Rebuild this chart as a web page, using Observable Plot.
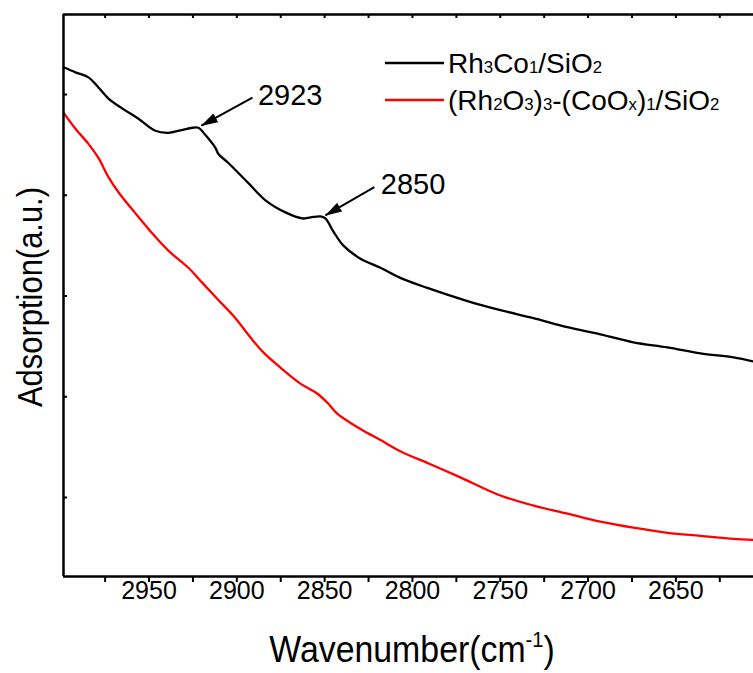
<!DOCTYPE html>
<html>
<head>
<meta charset="utf-8">
<script src="https://cdn.jsdelivr.net/npm/d3@7"></script>
<script src="https://cdn.jsdelivr.net/npm/@observablehq/plot@0.6"></script>
<style>
  html, body { margin: 0; padding: 0; background: #fff; }
</style>
</head>
<body>
<div id="chart"></div>
<script>
// ---------- data ----------
const blackWavenumber = [2998.7, 2991.9, 2984.5, 2978.8, 2973.1, 2965.1, 2956.0, 2946.4, 2939.0, 2931.0,
  2925.3, 2921.9, 2917.5, 2912.2, 2910.5, 2904.8, 2893.4, 2883.7, 2872.3, 2862.7,
  2858.0, 2852.4, 2849.6, 2845.0, 2839.3, 2829.6, 2818.2, 2806.9, 2791.5, 2768.7,
  2749.9, 2731.1, 2711.8, 2693.0, 2674.2, 2654.8, 2636.0, 2617.2, 2605.8];
const blackAbsorption = [5.27, 5.22, 5.17, 5.07, 4.96, 4.86, 4.76, 4.64, 4.62, 4.65,
  4.67, 4.67, 4.59, 4.47, 4.41, 4.32, 4.12, 3.95, 3.83, 3.77,
  3.78, 3.79, 3.77, 3.64, 3.50, 3.37, 3.28, 3.18, 3.08, 2.95,
  2.86, 2.78, 2.69, 2.62, 2.54, 2.49, 2.43, 2.39, 2.35];

const redWavenumber = [2998.7, 2991.9, 2984.5, 2978.8, 2973.1, 2967.4, 2957.7, 2948.1, 2939.0, 2927.6,
  2919.6, 2910.5, 2900.8, 2892.3, 2884.9, 2875.2, 2863.8, 2854.1, 2848.4, 2842.7,
  2829.6, 2818.2, 2806.9, 2789.8, 2772.7, 2749.9, 2731.1, 2711.8, 2693.0, 2674.2,
  2654.8, 2636.0, 2617.2, 2605.8];
const redAbsorption = [4.82, 4.66, 4.51, 4.37, 4.18, 4.03, 3.82, 3.62, 3.45, 3.28,
  3.13, 2.96, 2.78, 2.59, 2.44, 2.29, 2.13, 2.03, 1.94, 1.83,
  1.68, 1.57, 1.46, 1.33, 1.20, 1.02, 0.92, 0.84, 0.76, 0.70,
  0.65, 0.62, 0.59, 0.58];

const xDomain = [2998.7, 2605.8];
const yDomain = [0.216, 5.794];
const majorTicks = [2950, 2900, 2850, 2800, 2750, 2700, 2650];
const minorTicks = [2975, 2925, 2875, 2825, 2775, 2725, 2675, 2625];
const topTicks = [2975, 2950, 2925, 2900, 2875, 2850, 2825, 2800, 2775, 2750, 2725, 2700, 2675, 2650, 2625];
const yTicks = [1, 2, 3, 4, 5];

const peakLabels = ["2923", "2850"];
const peakTextX = [2888, 2818];
const peakTextY = [4.99, 4.10];
const arrowTailX = [2891.1, 2821.7];
const arrowTailY = [4.97, 4.08];
const arrowTipX = [2920.2, 2849.6];
const arrowTipY = [4.69, 3.80];

const seriesNames = ["Rh3Co1/SiO2", "(Rh2O3)3-(CoOx)1/SiO2"];
const seriesColors = ["#000000", "#ff0000"];

// ---------- tables ----------
const black = blackWavenumber.map((w, i) => ({w, a: blackAbsorption[i]}));
const red = redWavenumber.map((w, i) => ({w, a: redAbsorption[i]}));
const peaks = peakLabels.map((t, i) => ({
  t, tx: peakTextX[i], ty: peakTextY[i],
  x1: arrowTailX[i], y1: arrowTailY[i], x2: arrowTipX[i], y2: arrowTipY[i]
}));

const FONT = '"Liberation Sans", Arial, Helvetica, sans-serif';
const NARROW = '"Liberation Sans Narrow", "Arial Narrow", "Liberation Sans", Arial, sans-serif';
const W = 753, H = 673, ML = 63, MR = 0, MT = 14, MB = 97;
const innerW = W - ML - MR, innerH = H - MT - MB;

const svg = Plot.plot({
  width: W, height: H,
  marginLeft: ML, marginRight: MR, marginTop: MT, marginBottom: MB,
  style: {fontFamily: FONT, background: "#fff", color: "#000", overflow: "visible"},
  x: {domain: xDomain, label: null},
  y: {domain: yDomain, label: null, axis: null},
  marks: [
    Plot.axisX({ticks: majorTicks, tickSize: 6, strokeWidth: 2, tickFormat: () => "", label: null}),
    Plot.axisX({ticks: minorTicks, tickSize: 6, strokeWidth: 2, tickFormat: () => "", label: null}),
    Plot.text(majorTicks, {x: d => d, text: d => String(d), frameAnchor: "bottom", dy: 22,
      fontSize: 25, fontFamily: NARROW, fill: "#000"}),
    Plot.ruleX(topTicks, {x: d => d, insetBottom: innerH - 4, strokeWidth: 2}),
    Plot.ruleY(yTicks, {y: d => d, insetRight: innerW - 4, strokeWidth: 2}),
    Plot.line(red, {x: "w", y: "a", stroke: seriesColors[1], strokeWidth: 2.3, curve: "catmull-rom"}),
    Plot.line(black, {x: "w", y: "a", stroke: seriesColors[0], strokeWidth: 2.3, curve: "catmull-rom"}),
    Plot.ruleX([xDomain[0]], {x: d => d, strokeWidth: 2.5}),
    Plot.ruleY([yDomain[0], yDomain[1]], {y: d => d, strokeWidth: 2.5}),
    Plot.link(peaks, {x1: "x1", y1: "y1", x2: "x2", y2: "y2", stroke: "#000", strokeWidth: 2}),
    Plot.text(peaks, {x: "tx", y: "ty", text: "t", textAnchor: "start", fontSize: 29, fill: "#000"})
  ]
});

const s = d3.select(svg);

// filled arrow heads
const defs = s.append("defs");
defs.append("marker")
  .attr("id", "ah").attr("viewBox", "0 0 17 10")
  .attr("refX", 16.5).attr("refY", 5)
  .attr("markerWidth", 17).attr("markerHeight", 10)
  .attr("markerUnits", "userSpaceOnUse").attr("orient", "auto")
  .append("path").attr("d", "M0,0 L17,5 L0,10 Z").attr("fill", "#000");
s.selectAll('g[aria-label="link"] path').attr("marker-end", "url(#ah)");

// rich text helper
function rich(parent, parts, size) {
  parts.forEach(([txt, kind]) => {
    const t = parent.append("tspan").text(txt);
    if (kind === "sub") t.attr("font-size", size * 0.6);
  });
}

// legend
const leg = s.append("g").attr("font-family", FONT).attr("fill", "#000").attr("text-anchor", "start");
const legendParts = [
  [["Rh"], ["3", "sub"], ["Co"], ["1", "sub"], ["/SiO"], ["2", "sub"]],
  [["(Rh"], ["2", "sub"], ["O"], ["3", "sub"], [")"], ["3", "sub"], ["-(CoO"], ["x", "sub"], [")"], ["1", "sub"], ["/SiO"], ["2", "sub"]]
];
const legendY = [63, 100];
legendParts.forEach((parts, i) => {
  leg.append("line").attr("x1", 385).attr("x2", 444).attr("y1", legendY[i]).attr("y2", legendY[i])
    .attr("stroke", seriesColors[i]).attr("stroke-width", 2.6);
  const t = leg.append("text").attr("x", 448).attr("y", legendY[i] + 10).attr("font-size", 28)
    .attr("text-anchor", "start");
  rich(t, parts, 28);
});

// axis titles
const xt = s.append("text").attr("font-family", FONT).attr("font-size", 37).attr("fill", "#000")
  .attr("text-anchor", "middle").attr("transform", "translate(412,662) scale(0.915,1)");
xt.append("tspan").text("Wavenumber(cm");
xt.append("tspan").text("-1").attr("font-size", 22).attr("dy", -15);
xt.append("tspan").text(")").attr("dy", 15);

s.append("text").attr("font-family", FONT).attr("font-size", 35).attr("fill", "#000")
  .attr("text-anchor", "middle").attr("transform", "translate(42,297) rotate(-90) scale(0.884,1)")
  .text("Adsorption(a.u.)");

document.getElementById("chart").appendChild(svg);
</script>
</body>
</html>
